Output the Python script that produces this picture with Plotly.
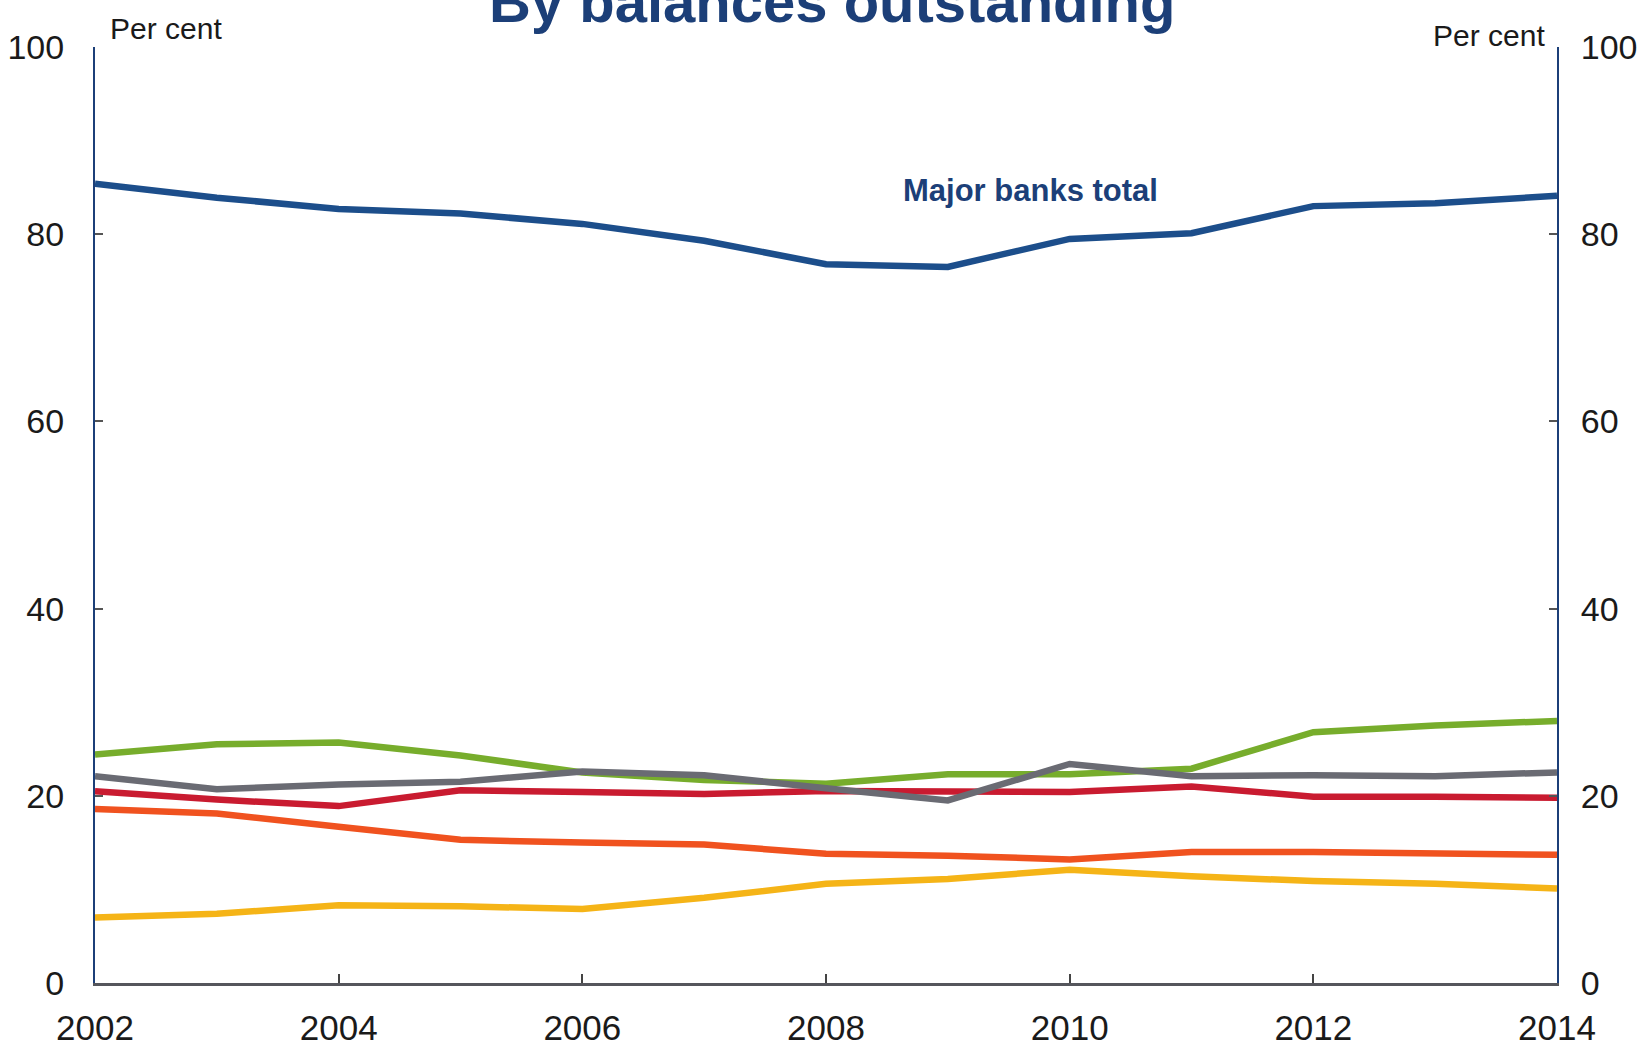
import plotly.graph_objects as go

years = list(range(2002, 2015))
major_banks_total = [85.4, 83.9, 82.7, 82.2, 81.1, 79.3, 76.8, 76.5, 79.5, 80.1, 83.0, 83.3, 84.1]
green_series = [24.4, 25.5, 25.7, 24.3, 22.5, 21.7, 21.3, 22.3, 22.3, 22.9, 26.8, 27.5, 28.0]
grey_series = [22.1, 20.7, 21.2, 21.5, 22.6, 22.2, 20.8, 19.5, 23.4, 22.1, 22.2, 22.1, 22.5]
red_series = [20.5, 19.6, 18.9, 20.6, 20.4, 20.2, 20.5, 20.5, 20.4, 21.0, 19.9, 19.9, 19.8]
orange_series = [18.6, 18.1, 16.7, 15.3, 15.0, 14.8, 13.8, 13.6, 13.2, 14.0, 14.0, 13.8, 13.7]
yellow_series = [7.0, 7.4, 8.3, 8.2, 7.9, 9.1, 10.6, 11.1, 12.1, 11.4, 10.9, 10.6, 10.1]

x_ticks = [2002, 2004, 2006, 2008, 2010, 2012, 2014]
y_ticks = [0, 20, 40, 60, 80, 100]

series = [
    ("Yellow", yellow_series, "#f5b417"),
    ("Orange", orange_series, "#f0521f"),
    ("Red", red_series, "#c91b30"),
    ("Green", green_series, "#77ad2c"),
    ("Grey", grey_series, "#6a6b73"),
    ("Major banks total", major_banks_total, "#1c4e8b"),
]

NAVY = "#1c3f78"
FONT = "Liberation Sans Narrow, Arial Narrow, Liberation Sans, sans-serif"

fig = go.Figure()
for name, vals, col in series:
    fig.add_trace(go.Scatter(x=years, y=vals, mode="lines", name=name,
                             line=dict(color=col, width=6.5), showlegend=False))

fig.update_layout(
    width=1652, height=1054,
    margin=dict(l=95, r=95, t=47, b=71),
    paper_bgcolor="white", plot_bgcolor="white",
    font=dict(family=FONT, size=34, color="#1a1a1a"),
    xaxis=dict(range=[2002, 2014], tickvals=x_ticks, ticks="inside", ticklen=9,
               tickcolor="#444", tickwidth=1.5, showline=True, linecolor="#55565c",
               linewidth=2.5, showgrid=False, zeroline=False, automargin=False,
               tickfont=dict(family=FONT, size=35), ticklabelstandoff=12),
    yaxis=dict(range=[0, 100], tickvals=y_ticks, ticks="inside", ticklen=8,
               tickcolor="#555", tickwidth=1.5, showline=True, linecolor=NAVY,
               linewidth=2, showgrid=False, zeroline=False, automargin=False,
               tickfont=dict(family=FONT, size=34), ticklabelstandoff=22),
    yaxis2=dict(range=[0, 100], tickvals=y_ticks, ticks="inside", ticklen=8,
                tickcolor="#555", tickwidth=1.5, showline=True, linecolor=NAVY,
                linewidth=2, showgrid=False, zeroline=False, overlaying="y",
                side="right", automargin=False, tickfont=dict(family=FONT, size=34),
                ticklabelstandoff=15),
)

# invisible trace to anchor right axis
fig.add_trace(go.Scatter(x=[2002], y=[0], yaxis="y2", mode="markers",
                         marker=dict(opacity=0), showlegend=False, hoverinfo="skip"))

fig.add_annotation(text="Per cent", xref="paper", yref="paper", x=0.009, y=1.0,
                   xanchor="left", yanchor="bottom", showarrow=False,
                   font=dict(family=FONT, size=30, color="#1a1a1a"))
fig.add_annotation(text="Per cent", xref="paper", yref="paper", x=0.993, y=0.992,
                   xanchor="right", yanchor="bottom", showarrow=False,
                   font=dict(family=FONT, size=30, color="#1a1a1a"))
fig.add_annotation(text="<b>Major banks total</b>", x=2009.68, y=84.7,
                   showarrow=False, xanchor="center", yanchor="middle",
                   font=dict(family=FONT, size=31, color=NAVY))
fig.add_annotation(text="<b>By balances outstanding</b>", xref="paper", yref="paper",
                   x=0.504, y=1.0, yshift=11, xanchor="center", yanchor="bottom",
                   showarrow=False,
                   font=dict(family="Liberation Sans, Arial, sans-serif", size=58, color=NAVY))

fig.write_html("out.html")
